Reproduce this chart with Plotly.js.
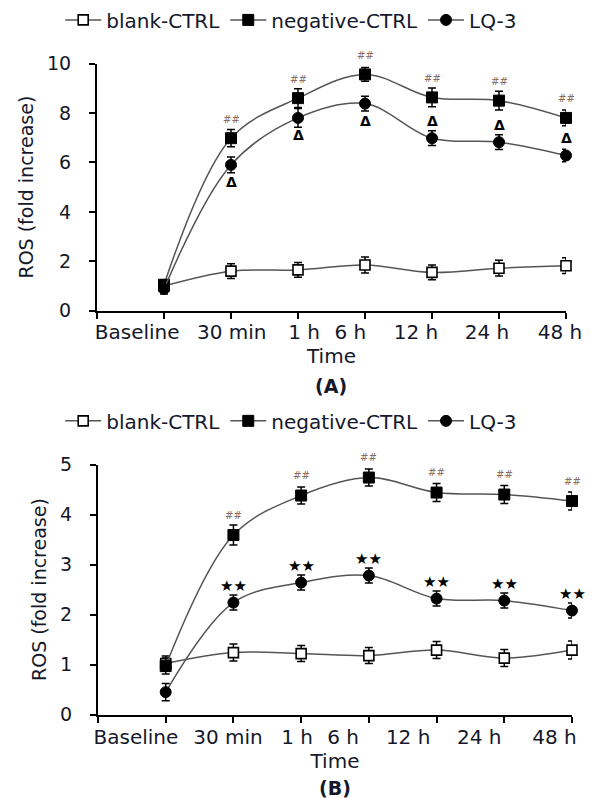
<!DOCTYPE html>
<html>
<head>
<meta charset="utf-8">
<script src="https://cdn.plot.ly/plotly-3.0.1.min.js"></script>
<style>html,body{margin:0;padding:0;background:#fff;}#chart{width:602px;height:798px;}</style>
</head>
<body>
<div id="chart"></div>
<script>
// ---------- data ----------
const timeLabels = ["Baseline", "30 min", "1 h", "6 h", "12 h", "24 h", "48 h"];
const seriesNames = ["blank-CTRL", "negative-CTRL", "LQ-3"];

// Panel A
const blankA = [1.0, 1.6, 1.65, 1.85, 1.55, 1.72, 1.82];
const blankA_err = [0.2, 0.3, 0.3, 0.32, 0.3, 0.32, 0.32];
const negA = [1.05, 6.98, 8.6, 9.56, 8.63, 8.5, 7.8];
const negA_err = [0.2, 0.35, 0.38, 0.28, 0.38, 0.38, 0.32];
const lqA = [0.88, 5.9, 7.8, 8.38, 6.98, 6.82, 6.28];
const lqA_err = [0.2, 0.32, 0.38, 0.3, 0.3, 0.3, 0.25];
const hashA = ["", "##", "##", "##", "##", "##", "##"];
const deltaA = ["", "Δ", "Δ", "Δ", "Δ", "Δ", "Δ"];

// Panel B
const blankB = [1.02, 1.24, 1.22, 1.18, 1.29, 1.13, 1.29];
const blankB_err = [0.15, 0.17, 0.16, 0.16, 0.17, 0.17, 0.18];
const negB = [0.97, 3.59, 4.38, 4.74, 4.44, 4.4, 4.27];
const negB_err = [0.16, 0.2, 0.17, 0.17, 0.18, 0.18, 0.18];
const lqB = [0.45, 2.24, 2.64, 2.78, 2.32, 2.28, 2.08];
const lqB_err = [0.17, 0.15, 0.15, 0.15, 0.15, 0.15, 0.15];
const hashB = ["", "##", "##", "##", "##", "##", "##"];
const starB = ["", "★★", "★★", "★★", "★★", "★★", "★★"];

// ---------- layout helpers (style / position only) ----------
const idx = timeLabels.map((_, i) => i);
const FONT = "DejaVu Sans, Arial, sans-serif";
const TXT = "#14182a";
const labelPosA = [-0.40, 1.01, 2.09, 2.78, 3.76, 4.82, 5.91];
const labelPosB = [-0.44, 0.92, 1.94, 2.62, 3.58, 4.63, 5.74];
const deltaSideA = [0, -1, -1, -1, 1, 1, 1];

const styles = [
  {symbol: "square", size: 10, color: "#fff", line: {color: "#000", width: 1.6}},
  {symbol: "square", size: 11, color: "#000", line: {color: "#000", width: 1}},
  {symbol: "circle", size: 11, color: "#000", line: {color: "#000", width: 1}}
];

function mk(name, y, err, st, xa, ya, leg) {
  return {
    type: "scatter", mode: "lines+markers", name: name, cliponaxis: false,
    x: idx, y: y, xaxis: xa, yaxis: ya, legend: leg,
    line: {color: "#555", width: 1.5, shape: "spline", smoothing: 1},
    marker: {symbol: st.symbol, size: st.size, color: st.color, line: st.line},
    error_y: {type: "data", array: err, visible: true, color: "#000", thickness: 1.5, width: 4}
  };
}
// empty carrier traces so the overlaid tick-label axes are drawn
function carrier(xa, ya) {
  return {type: "scatter", mode: "none", x: [], y: [], xaxis: xa, yaxis: ya, showlegend: false, hoverinfo: "skip"};
}

const data = [
  mk(seriesNames[0], blankA, blankA_err, styles[0], "x", "y", "legend"),
  mk(seriesNames[1], negA, negA_err, styles[1], "x", "y", "legend"),
  mk(seriesNames[2], lqA, lqA_err, styles[2], "x", "y", "legend"),
  mk(seriesNames[0], blankB, blankB_err, styles[0], "x2", "y2", "legend2"),
  mk(seriesNames[1], negB, negB_err, styles[1], "x2", "y2", "legend2"),
  mk(seriesNames[2], lqB, lqB_err, styles[2], "x2", "y2", "legend2"),
  carrier("x3", "y"),
  carrier("x4", "y2")
];

const annotations = [];
function addMarks(texts, ys, xref, yref, shifts, font) {
  texts.forEach((t, i) => {
    if (!t) return;
    annotations.push({x: idx[i], y: ys[i], xref: xref, yref: yref, text: t, showarrow: false,
      yshift: shifts[i], font: font, xanchor: "center", yanchor: "middle"});
  });
}
const hashFont = {family: FONT, size: 10, color: "#8a6f62"};
addMarks(hashA, negA, "x", "y", idx.map(() => 19), hashFont);
addMarks(deltaA, lqA, "x", "y", deltaSideA.map(s => s * 17), {family: FONT, size: 14, color: "#000", weight: "bold"});
addMarks(hashB, negB, "x2", "y2", idx.map(() => 20), hashFont);
addMarks(starB, lqB, "x2", "y2", idx.map(() => 17), {family: FONT, size: 15, color: "#000"});

annotations.push({xref: "paper", yref: "paper", x: 331 / 602, y: 1 - 383 / 798, text: "<b>(A)</b>", showarrow: false,
  font: {family: FONT, size: 19, color: TXT}, xanchor: "center", yanchor: "middle"});
annotations.push({xref: "paper", yref: "paper", x: 335 / 602, y: 1 - 788 / 798, text: "<b>(B)</b>", showarrow: false,
  font: {family: FONT, size: 19, color: TXT}, xanchor: "center", yanchor: "middle"});

function mainX(domain, anchor) {
  return {domain: domain, anchor: anchor, range: [-1, 6], showgrid: false, zeroline: false,
    showline: true, linecolor: "#000", linewidth: 2, ticks: "outside", ticklen: 6, tickwidth: 2, tickcolor: "#000",
    tickmode: "array", tickvals: [-1].concat(idx), showticklabels: false, fixedrange: true};
}
function labelX(over, anchor, pos, labelStandoff, titleStandoff) {
  return {overlaying: over, anchor: anchor, side: "bottom", range: [-1, 6], showgrid: false, zeroline: false,
    showline: false, ticks: "", tickmode: "array", tickvals: pos, ticktext: timeLabels, tickangle: 0,
    ticklabelstandoff: labelStandoff, tickfont: {family: FONT, size: 20, color: TXT},
    title: {text: "Time", font: {family: FONT, size: 20, color: TXT}, standoff: titleStandoff}};
}
function mainY(domain, anchor, range, dtick) {
  return {domain: domain, anchor: anchor, range: range, showgrid: false, zeroline: false,
    showline: true, linecolor: "#000", linewidth: 2, ticks: "outside", ticklen: 6, tickwidth: 2, tickcolor: "#000",
    dtick: dtick, tick0: 0, ticklabelstandoff: 14, tickfont: {family: FONT, size: 19, color: TXT},
    title: {text: "ROS (fold increase)", font: {family: FONT, size: 19, color: TXT}, standoff: 8}};
}

const legendBase = {orientation: "h", font: {family: FONT, size: 20, color: TXT}, bgcolor: "rgba(0,0,0,0)",
  borderwidth: 0, xanchor: "left", yanchor: "middle", itemwidth: 36, tracegroupgap: 0};

const layout = {
  width: 602, height: 798, margin: {l: 0, r: 0, t: 0, b: 0},
  paper_bgcolor: "#fff", plot_bgcolor: "#fff", showlegend: true,
  font: {family: FONT, color: TXT},
  xaxis: mainX([97 / 602, 566 / 602], "y"),
  yaxis: mainY([1 - 307 / 798, 1 - 58 / 798], "x", [0, 10], 2),
  xaxis3: labelX("x", "y", labelPosA, 7, 0),
  xaxis2: mainX([98 / 602, 572 / 602], "y2"),
  yaxis2: mainY([1 - 714 / 798, 1 - 462 / 798], "x2", [0, 5], 1),
  xaxis4: labelX("x2", "y2", labelPosB, 8, 6),
  legend: Object.assign({x: 0.1, y: 1 - 14 / 798}, legendBase),
  legend2: Object.assign({x: 0.1, y: 1 - 418 / 798}, legendBase),
  annotations: annotations
};

Plotly.newPlot("chart", data, layout, {staticPlot: true, displayModeBar: false});
</script>
</body>
</html>
